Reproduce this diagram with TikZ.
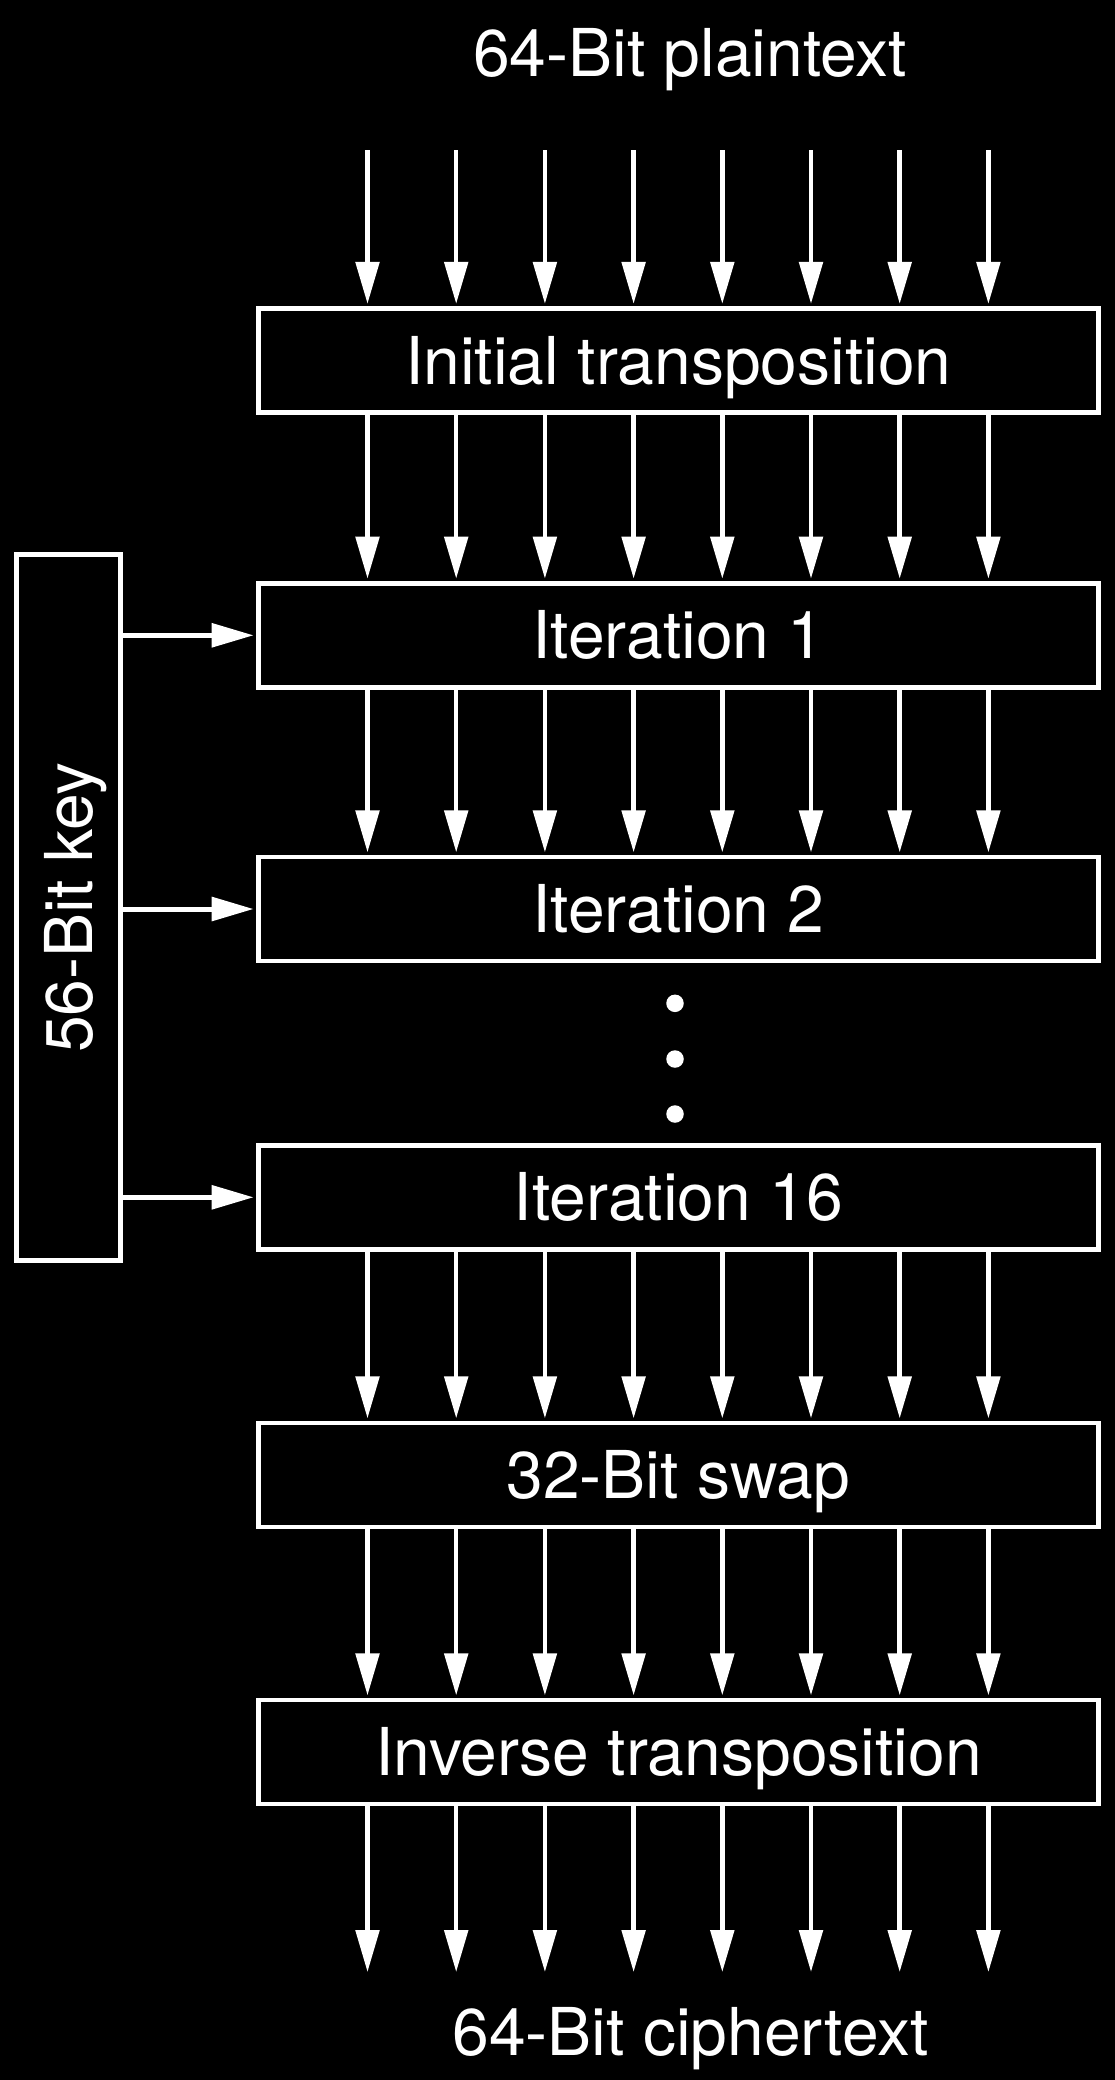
\documentclass[tikz,border=0pt]{standalone}
\usepackage{fontspec}
\setmainfont{TeX Gyre Heros}
\usetikzlibrary{arrows.meta}
\begin{document}
\begin{tikzpicture}[x=1pt,y=-1pt,
  every node/.style={text=white, font=\fontsize{66}{79}\selectfont},
  stage/.style={draw=white, line width=4.7pt, fill=black, minimum width=840.2pt,
    minimum height=104pt, inner sep=0pt, text height=47pt, text depth=0pt},
  keybox/.style={draw=white, line width=4.7pt, fill=black, rotate=90,
    minimum width=705.5pt, minimum height=104.2pt, inner sep=0pt,
    text height=47pt, text depth=0pt},
  bitarrow/.style={draw=white, line width=4.5pt,
    -{Triangle[length=42pt,width=23.3pt]}, shorten >=2.3pt},
  dotnode/.style={circle, fill=white, minimum size=17.5pt, inner sep=0pt},
]
\fill[black] (0,0) rectangle (1115,2080);
\useasboundingbox (0,0) rectangle (1115,2080);

\node[anchor=base] (pt) at (690,76) {64-Bit plaintext};
\node[stage] (ip)   at (678.4,360.5)  {Initial transposition};
\node[stage] (it1)  at (678.4,635.3)  {Iteration 1};
\node[stage] (it2)  at (678.4,909)    {Iteration 2};
\node[stage] (it16) at (678.4,1197.3) {Iteration 16};
\node[stage] (sw)   at (678.4,1475)   {32-Bit swap};
\node[stage] (inv)  at (678.4,1752)   {Inverse transposition};
\node[anchor=base] (ct) at (690.5,2055) {64-Bit ciphertext};

\node[keybox] (key) at (68.6,907.5) {56-Bit key};

\node[dotnode] (d1) at (675,1003.3) {};
\node[dotnode] (d2) at (675,1059) {};
\node[dotnode] (d3) at (675,1114) {};

\foreach \i in {0,...,7} {
  \coordinate (c\i) at ({367.5+88.7*\i},150);
  \coordinate (e\i) at ({367.5+88.7*\i},1972);
  \draw[bitarrow] (c\i) -- (c\i |- ip.north);
  \draw[bitarrow] (c\i |- ip.south) -- (c\i |- it1.north);
  \draw[bitarrow] (c\i |- it1.south) -- (c\i |- it2.north);
  \draw[bitarrow] (c\i |- it16.south) -- (c\i |- sw.north);
  \draw[bitarrow] (c\i |- sw.south) -- (c\i |- inv.north);
  \draw[bitarrow, shorten >=0pt] (c\i |- inv.south) -- (e\i);
}

\draw[bitarrow, line width=5pt] (key.south |- it1.center) -- (it1.west);
\draw[bitarrow, line width=5pt] (key.south |- it2.center) -- (it2.west);
\draw[bitarrow, line width=5pt] (key.south |- it16.center) -- (it16.west);
\end{tikzpicture}
\end{document}
